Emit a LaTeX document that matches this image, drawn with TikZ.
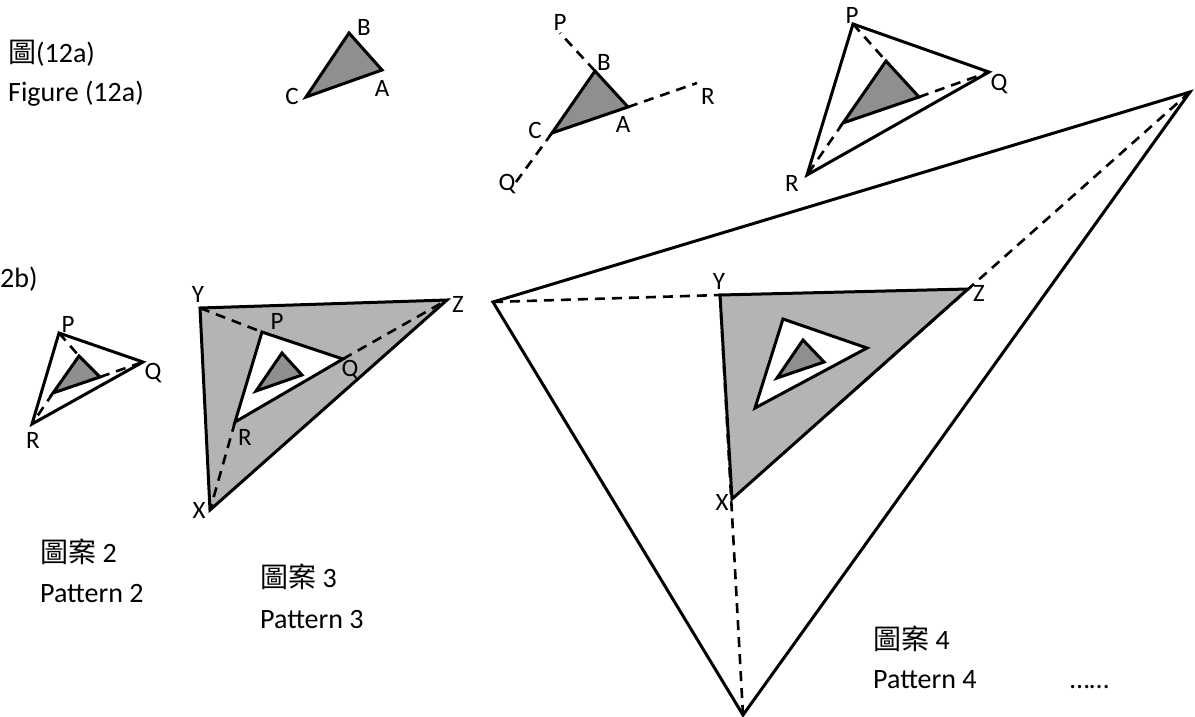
\documentclass[tikz,border=0pt]{standalone}
\usepackage{fontspec}
\setmainfont{Carlito}
\newfontfamily\cjk{Noto Sans CJK TC}
\usetikzlibrary{calc}
\definecolor{LGrey}{RGB}{ 180, 180, 180 }
\definecolor{DGrey}{RGB}{ 143, 143, 143 }
\tikzset{
    edge/.style={black, line width=3pt},
    guide/.style={black, line width=2.6pt, dash pattern=on 10pt off 7pt},
    vlabel/.style={inner sep=0pt, font=\fontsize{25}{30}\selectfont},
    caption/.style={inner sep=0pt, anchor=base west, font=\fontsize{28}{34}\selectfont},
}
\NewDocumentCommand{\Seed}{mmm}{
    \draw[edge, fill=DGrey] (#1) -- (#2) -- (#3) -- cycle;
}
\NewDocumentCommand{\Ring}{mmmm}{
    \draw[edge, fill=#4] (#1) -- (#2) -- (#3) -- cycle;
}
\newcommand{\Canvas}{
\useasboundingbox (0,0) rectangle (1195,716);

\begin{scope}[name prefix=F1-]
    \coordinate (A) at (382,70);
    \coordinate (B) at (349,33);
    \coordinate (C) at (306,97);
\end{scope}

\begin{scope}[name prefix=F2-]
    \coordinate (A) at (628,107);
    \coordinate (B) at (595,71);
    \coordinate (C) at (552,133);
    \coordinate (P) at (560,33);
    \coordinate (Q) at (516,182);
    \coordinate (R) at (697,83);
\end{scope}

\begin{scope}[name prefix=F3-]
    \coordinate (P) at (853,24);
    \coordinate (Q) at (989,72);
    \coordinate (R) at (807,175);
    \coordinate (a) at (919,97);
    \coordinate (b) at (886,61);
    \coordinate (c) at (843,123);
\end{scope}

\begin{scope}[name prefix=P2-]
    \coordinate (P) at (59,333);
    \coordinate (Q) at (143,362);
    \coordinate (R) at (32,424);
    \coordinate (a) at (100,377);
    \coordinate (b) at (79,356);
    \coordinate (c) at (53,393);
\end{scope}

\begin{scope}[name prefix=P3-]
    \coordinate (X) at (210,510);
    \coordinate (Y) at (200,308);
    \coordinate (Z) at (447,300);
    \coordinate (P) at (262,332);
    \coordinate (Q) at (343,359);
    \coordinate (R) at (235,422);
    \coordinate (a) at (302,375);
    \coordinate (b) at (282,353);
    \coordinate (c) at (256,391);
\end{scope}

\begin{scope}[name prefix=P4-]
    \coordinate (left) at (493,302);
    \coordinate (right) at (1190,92);
    \coordinate (bottom) at (743,715);
    \coordinate (X) at (732,499);
    \coordinate (Y) at (720,295);
    \coordinate (Z) at (968,289);
    \coordinate (P) at (783,319);
    \coordinate (Q) at (867,348);
    \coordinate (R) at (755,408);
    \coordinate (a) at (824,362);
    \coordinate (b) at (803,340);
    \coordinate (c) at (777,378);
    \coordinate (stop) at ($(P4-Z)!0.62!(P4-X)$);
\end{scope}
}

\begin{document}
\begin{tikzpicture}[x=1pt, y=-1pt]
\Canvas

% figure (12a)
\Seed{F1-A}{F1-B}{F1-C}
\node[vlabel] (F1-lA) at (382,88) {A};
\node[vlabel] (F1-lB) at (364,27) {B};
\node[vlabel] (F1-lC) at (292,96) {C};

\draw[guide] (F2-B) -- (F2-P);
\draw[guide] (F2-A) -- (F2-R);
\draw[guide] (F2-C) -- (F2-Q);
\Seed{F2-A}{F2-B}{F2-C}
\node[vlabel] (F2-lA) at (623,124) {A};
\node[vlabel] (F2-lB) at (604,62) {B};
\node[vlabel] (F2-lC) at (535,130) {C};
\node[vlabel] (F2-lP) at (560,22) {P};
\node[vlabel] (F2-lQ) at (507,184) {Q};
\node[vlabel] (F2-lR) at (708,96) {R};

\Ring{F3-P}{F3-Q}{F3-R}{white}
\draw[guide] (F3-P) -- (F3-b);
\draw[guide] (F3-a) -- (F3-Q);
\draw[guide] (F3-c) -- (F3-R);
\Seed{F3-a}{F3-b}{F3-c}
\node[vlabel] (F3-lP) at (852,15) {P};
\node[vlabel] (F3-lQ) at (999,84) {Q};
\node[vlabel] (F3-lR) at (792,183) {R};

% pattern 2
\Ring{P2-P}{P2-Q}{P2-R}{white}
\draw[guide] (P2-P) -- (P2-b);
\draw[guide] (P2-a) -- (P2-Q);
\draw[guide] (P2-c) -- (P2-R);
\Seed{P2-a}{P2-b}{P2-c}
\node[vlabel] (P2-lP) at (68,324) {P};
\node[vlabel] (P2-lQ) at (153,373) {Q};
\node[vlabel] (P2-lR) at (33,440) {R};

% pattern 3
\Ring{P3-X}{P3-Y}{P3-Z}{LGrey}
\Ring{P3-P}{P3-Q}{P3-R}{white}
\Seed{P3-a}{P3-b}{P3-c}
\draw[guide] (P3-Y) -- (P3-P);
\draw[guide] (P3-Q) -- (P3-Z);
\draw[guide] (P3-R) -- (P3-X);
\node[vlabel] (P3-lX) at (199,510) {X};
\node[vlabel] (P3-lY) at (198,294) {Y};
\node[vlabel] (P3-lZ) at (458,304) {Z};
\node[vlabel] (P3-lP) at (277,321) {P};
\node[vlabel] (P3-lQ) at (350,370) {Q};
\node[vlabel] (P3-lR) at (245,437) {R};

% pattern 4
\Ring{P4-left}{P4-right}{P4-bottom}{white}
\Ring{P4-X}{P4-Y}{P4-Z}{LGrey}
\Ring{P4-P}{P4-Q}{P4-R}{white}
\Seed{P4-a}{P4-b}{P4-c}
\draw[guide] (P4-left) -- (P4-Y);
\draw[guide] (P4-right) -- (P4-stop);
\draw[guide] (P4-bottom) -- (P4-Y);
\node[vlabel] (P4-lX) at (722,502) {X};
\node[vlabel] (P4-lY) at (719,281) {Y};
\node[vlabel] (P4-lZ) at (979,293) {Z};

% captions
\node[caption] (cap-12a-zh) at (8,62) {{\cjk 圖}(12a)};
\node[caption] (cap-12a-en) at (8,101) {Figure (12a)};
\node[caption] (cap-12b) at (0,287) {2b)};
\node[caption] (cap-2-zh) at (40,562) {{\cjk 圖案} 2};
\node[caption] (cap-2-en) at (40,602) {Pattern 2};
\node[caption] (cap-3-zh) at (260,587) {{\cjk 圖案} 3};
\node[caption] (cap-3-en) at (260,628) {Pattern 3};
\node[caption] (cap-4-zh) at (873,649) {{\cjk 圖案} 4};
\node[caption] (cap-4-en) at (873,688) {Pattern 4};
\node[caption] (cap-more) at (1070,688) {……};
\end{tikzpicture}
\end{document}
